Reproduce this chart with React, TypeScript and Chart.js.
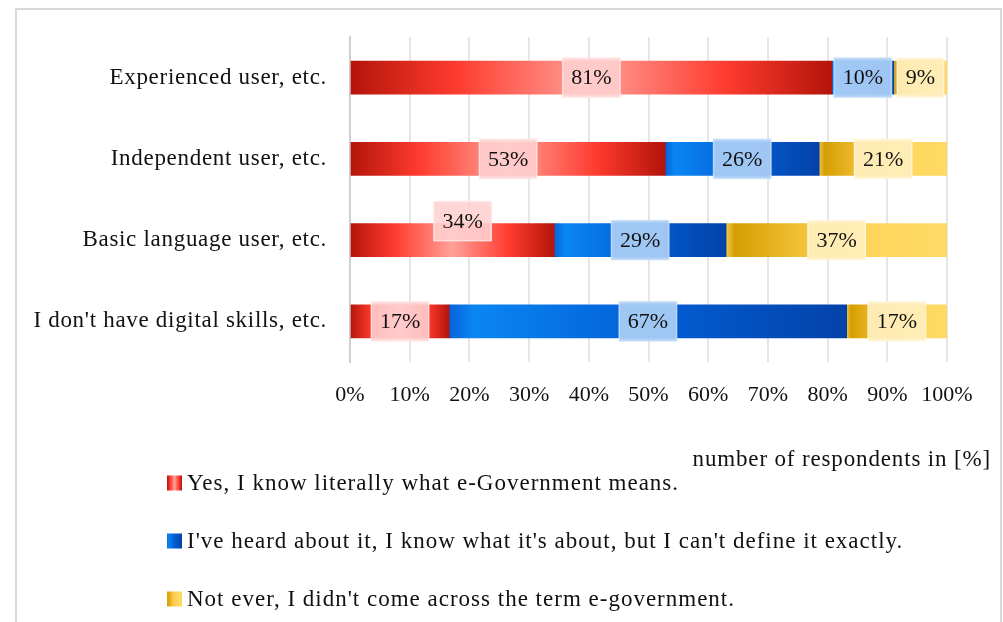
import React, { useEffect, useRef } from "react";
import { Chart, registerables } from "chart.js";

Chart.register(...registerables);

const categories = [
  "Experienced user, etc.",
  "Independent user, etc.",
  "Basic language user, etc.",
  "I don't have digital skills, etc.",
];
const seriesNames = [
  "Yes, I know literally what e-Government means.",
  "I've heard about it, I know what it's about, but I can't define it exactly.",
  "Not ever, I didn't come across the term e-government.",
];
const yesValues = [80.7, 52.8, 34.2, 16.6];
const heardValues = [10.4, 25.8, 28.8, 66.6];
const notEverValues = [8.9, 21.4, 37.0, 16.8];
const xTicks = [0, 10, 20, 30, 40, 50, 60, 70, 80, 90, 100];
const axisTitle = "number of respondents in [%]";

const FONT = "'Liberation Serif', 'Times New Roman', serif";

const allValues = [yesValues, heardValues, notEverValues];

type Stop = [number, string];
const gradStops: Stop[][] = [
  [
    [0, "#b3140a"],
    [0.22, "#ff3b2f"],
    [0.5, "#ffa198"],
    [0.78, "#ff3b2f"],
    [1, "#b3140a"],
  ],
  [
    [0, "#0860d8"],
    [0.06, "#0a86f2"],
    [0.5, "#035fd6"],
    [1, "#0342a8"],
  ],
  [
    [0, "#f2c64a"],
    [0.04, "#d59e00"],
    [0.4, "#f8c844"],
    [0.7, "#ffd75e"],
    [1, "#ffd966"],
  ],
];
const fallback = ["#e8291c", "#0560d8", "#fbd050"];
const labelFill = ["rgba(255,208,208,0.88)", "rgba(168,204,245,0.95)", "rgba(255,239,190,0.92)"];
const labelStroke = ["rgba(255,228,228,0.9)", "rgba(200,222,250,0.9)", "rgba(255,246,220,0.9)"];

function makeGrad(ctx: CanvasRenderingContext2D, x0: number, x1: number, k: number) {
  const g = ctx.createLinearGradient(x0, 0, x1, 0);
  for (const [o, c] of gradStops[k]) g.addColorStop(o, c);
  return g;
}

function setSpacing(ctx: any, px: number) {
  if ("letterSpacing" in ctx) ctx.letterSpacing = px + "px";
}

const overlayPlugin = {
  id: "overlay",
  beforeDraw(chart: any) {
    setSpacing(chart.ctx, 0);
  },
  afterDatasetsDraw(chart: any) {
    const ctx: CanvasRenderingContext2D = chart.ctx;
    ctx.save();
    setSpacing(ctx, 0);
    ctx.font = `22px ${FONT}`;
    ctx.textAlign = "center";
    ctx.textBaseline = "middle";
    chart.data.datasets.forEach((ds: any, di: number) => {
      const meta = chart.getDatasetMeta(di);
      meta.data.forEach((el: any, i: number) => {
        const v = ds.data[i] as number;
        const text = Math.round(v) + "%";
        let cx = (el.x + el.base) / 2;
        let cy = el.y;
        // label that the original chart moved above its bar
        if (di === 0 && i === 2) {
          cx += 10;
          cy -= 19;
        }
        const w = ctx.measureText(text).width + 17;
        const h = 39;
        ctx.fillStyle = labelFill[di];
        ctx.fillRect(cx - w / 2, cy - h / 2, w, h);
        ctx.strokeStyle = labelStroke[di];
        ctx.lineWidth = 1.5;
        ctx.strokeRect(cx - w / 2, cy - h / 2, w, h);
        ctx.fillStyle = "#111";
        ctx.fillText(text, cx, cy + 1);
      });
    });
    ctx.restore();
    // category labels of the y axis are drawn after this (ticks z = 1)
    setSpacing(ctx, 0.7);
  },
  afterDraw(chart: any) {
    const ctx: CanvasRenderingContext2D = chart.ctx;
    ctx.save();
    setSpacing(ctx, 0);
    // outer frame
    ctx.strokeStyle = "#d9d9d9";
    ctx.lineWidth = 2;
    ctx.strokeRect(16, 9, 985, 700);
    // axis title
    setSpacing(ctx, 0.85);
    ctx.font = `23px ${FONT}`;
    ctx.fillStyle = "#111";
    ctx.textAlign = "right";
    ctx.textBaseline = "middle";
    ctx.fillText(axisTitle, 991, 460);
    // legend
    const rows = [483, 541, 599];
    ctx.textAlign = "left";
    setSpacing(ctx, 1.0);
    chart.data.datasets.forEach((ds: any, di: number) => {
      const y = rows[di];
      const bx = 167;
      const by = y - 7.5;
      ctx.fillStyle = makeGrad(ctx, bx, bx + 15, di);
      ctx.fillRect(bx, by, 15, 15);
      ctx.fillStyle = "#111";
      ctx.fillText(ds.label, 187, y + 1);
    });
    ctx.restore();
    setSpacing(ctx, 0);
  },
};

export default function App() {
  const ref = useRef<HTMLCanvasElement>(null);
  useEffect(() => {
    document.body.style.margin = "0";
    const canvas = ref.current!;
    const datasets = allValues.map((vals, k) => ({
      label: seriesNames[k],
      data: vals,
      backgroundColor: (c: any) => {
        const chart = c.chart;
        if (!chart.chartArea || c.dataIndex === undefined || !chart.scales.x) return fallback[k];
        const i = c.dataIndex;
        let start = 0;
        for (let j = 0; j < k; j++) start += allValues[j][i];
        const x = chart.scales.x;
        const x0 = x.getPixelForValue(start);
        const x1 = x.getPixelForValue(start + vals[i]);
        return makeGrad(chart.ctx, x0, x1, k);
      },
      borderWidth: 0,
      barThickness: 33,
    }));
    const chart = new Chart(canvas, {
      type: "bar",
      data: { labels: categories, datasets },
      options: {
        indexAxis: "y",
        responsive: false,
        animation: false,
        events: [],
        layout: { padding: { top: 37, right: 56, left: 0, bottom: 0 } },
        plugins: {
          legend: { display: false },
          tooltip: { enabled: false },
          title: { display: false },
        },
        scales: {
          x: {
            stacked: true,
            min: 0,
            max: 100,
            afterBuildTicks: (s: any) => {
              s.ticks = xTicks.map((v) => ({ value: v }));
            },
            afterFit: (s: any) => {
              s.height = 260;
            },
            ticks: {
              callback: (v: any) => v + "%",
              font: { family: FONT, size: 22 },
              color: "#111",
              padding: 20,
              maxRotation: 0,
              autoSkip: false,
            },
            grid: { color: "#e6e6e6", lineWidth: 2, drawTicks: false },
            border: { display: false },
          },
          y: {
            stacked: true,
            afterFit: (s: any) => {
              s.width = 350;
            },
            ticks: {
              font: { family: FONT, size: 23 },
              color: "#111",
              padding: 23,
              z: 1,
            },
            grid: { display: false, drawTicks: false },
            border: { display: true, color: "#d0d0d0", width: 2 },
          },
        },
      },
      plugins: [overlayPlugin],
    });
    return () => chart.destroy();
  }, []);
  return (
    <div style={{ position: "absolute", left: 0, top: 0, width: 1003, height: 622, overflow: "hidden", background: "#fff" }}>
      <canvas ref={ref} width={1003} height={622} style={{ display: "block" }} />
    </div>
  );
}
